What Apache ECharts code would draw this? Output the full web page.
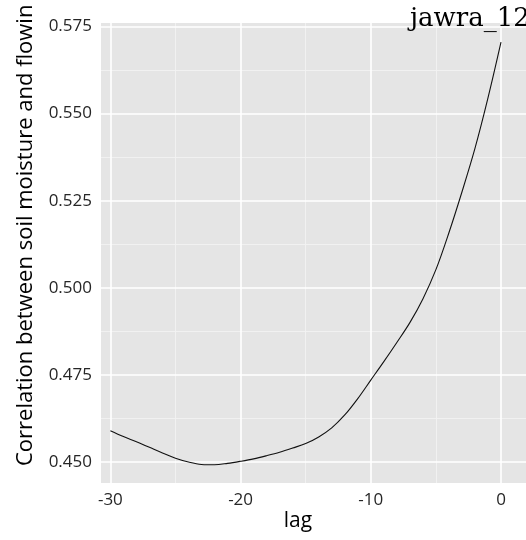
<!DOCTYPE html>
<html>
<head>
<meta charset="utf-8">
<script src="https://cdn.jsdelivr.net/npm/echarts@6/dist/echarts.min.js"></script>
<style>html,body{margin:0;padding:0;background:#fff}#c{width:526px;height:540px}</style>
</head>
<body>
<div id="c"></div>
<script>
const lags = [-30,-29,-28,-27,-26,-25,-24,-23,-22,-21,-20,-19,-18,-17,-16,-15,-14,-13,-12,-11,-10,-9,-8,-7,-6,-5,-4,-3,-2,-1,0];
const corr = [0.4590,0.4573,0.4558,0.4542,0.4526,0.4511,0.4500,0.4493,0.4492,0.4496,0.4502,0.4509,0.4518,0.4528,0.4540,0.4553,0.4572,0.4598,0.4635,0.4682,0.4735,0.4788,0.4843,0.4900,0.4968,0.5052,0.5158,0.5275,0.5400,0.5545,0.5705];
const xMajor = [-30,-20,-10,0];
const xMinor = [-25,-15,-5];
const yMajor = [0.450,0.475,0.500,0.525,0.550,0.575];
const yMinor = [0.4625,0.4875,0.5125,0.5375,0.5625];
const titleText = 'jawra_12';
const yTitle = 'Correlation between soil moisture and flowin';
const xTitle = 'lag';

const X_MIN = -30.72, X_MAX = 1.92, Y_MIN = 0.44397, Y_MAX = 0.5760;
const chart = echarts.init(document.getElementById('c'), null, {renderer:'canvas'});
function xAx(vals, major){
  return {type:'value', min:X_MIN, max:X_MAX, position:'bottom',
    axisLine:{show:false},
    axisTick:{show:false, customValues:vals},
    axisLabel:{show:major, customValues:vals, color:'#262626', fontFamily:'Open Sans', fontSize:17, margin:9,
      formatter:v=>String(Math.round(v))},
    splitLine:{show:true, lineStyle:{color: major?'#ffffff':'#f2f2f2', width: major?1.6:0.9}},
    z: major?2:1};
}
function yAx(vals, major){
  return {type:'value', min:Y_MIN, max:Y_MAX, position:'left',
    axisLine:{show:false},
    axisTick:{show:false, customValues:vals},
    axisLabel:{show:major, customValues:vals, color:'#262626', fontFamily:'Open Sans', fontSize:17, margin:9,
      formatter:v=>v.toFixed(3)},
    splitLine:{show:true, lineStyle:{color: major?'#ffffff':'#f2f2f2', width: major?1.6:0.9}},
    z: major?2:1};
}
chart.setOption({
  animation:false,
  grid:{left:101, right:0, top:23, bottom:57, show:true, backgroundColor:'#e5e5e5', borderWidth:0,
    containLabel:false, outerBoundsMode:'none'},
  xAxis:[xAx(xMinor,false), xAx(xMajor,true)],
  yAxis:[yAx(yMinor,false), yAx(yMajor,true)],
  series:[{type:'line', xAxisIndex:1, yAxisIndex:1, data:lags.map((l,i)=>[l,corr[i]]),
    smooth:0.35, showSymbol:false, lineStyle:{color:'#111', width:1.1}, z:5}],
  graphic:[
    {type:'text', left:410, top:6, style:{text:titleText, font:'26px "DejaVu Serif"', fill:'#000'}, z:10},
    {type:'text', x:37, y:466, rotation:Math.PI/2, style:{text:yTitle, font:'22px "Open Sans"', fill:'#000', align:'left', verticalAlign:'bottom'}, z:10},
    {type:'text', x:298, y:521, style:{text:xTitle, font:'21px "Open Sans"', fill:'#000', align:'center', verticalAlign:'middle'}, z:10}
  ]
});
</script>
</body>
</html>
